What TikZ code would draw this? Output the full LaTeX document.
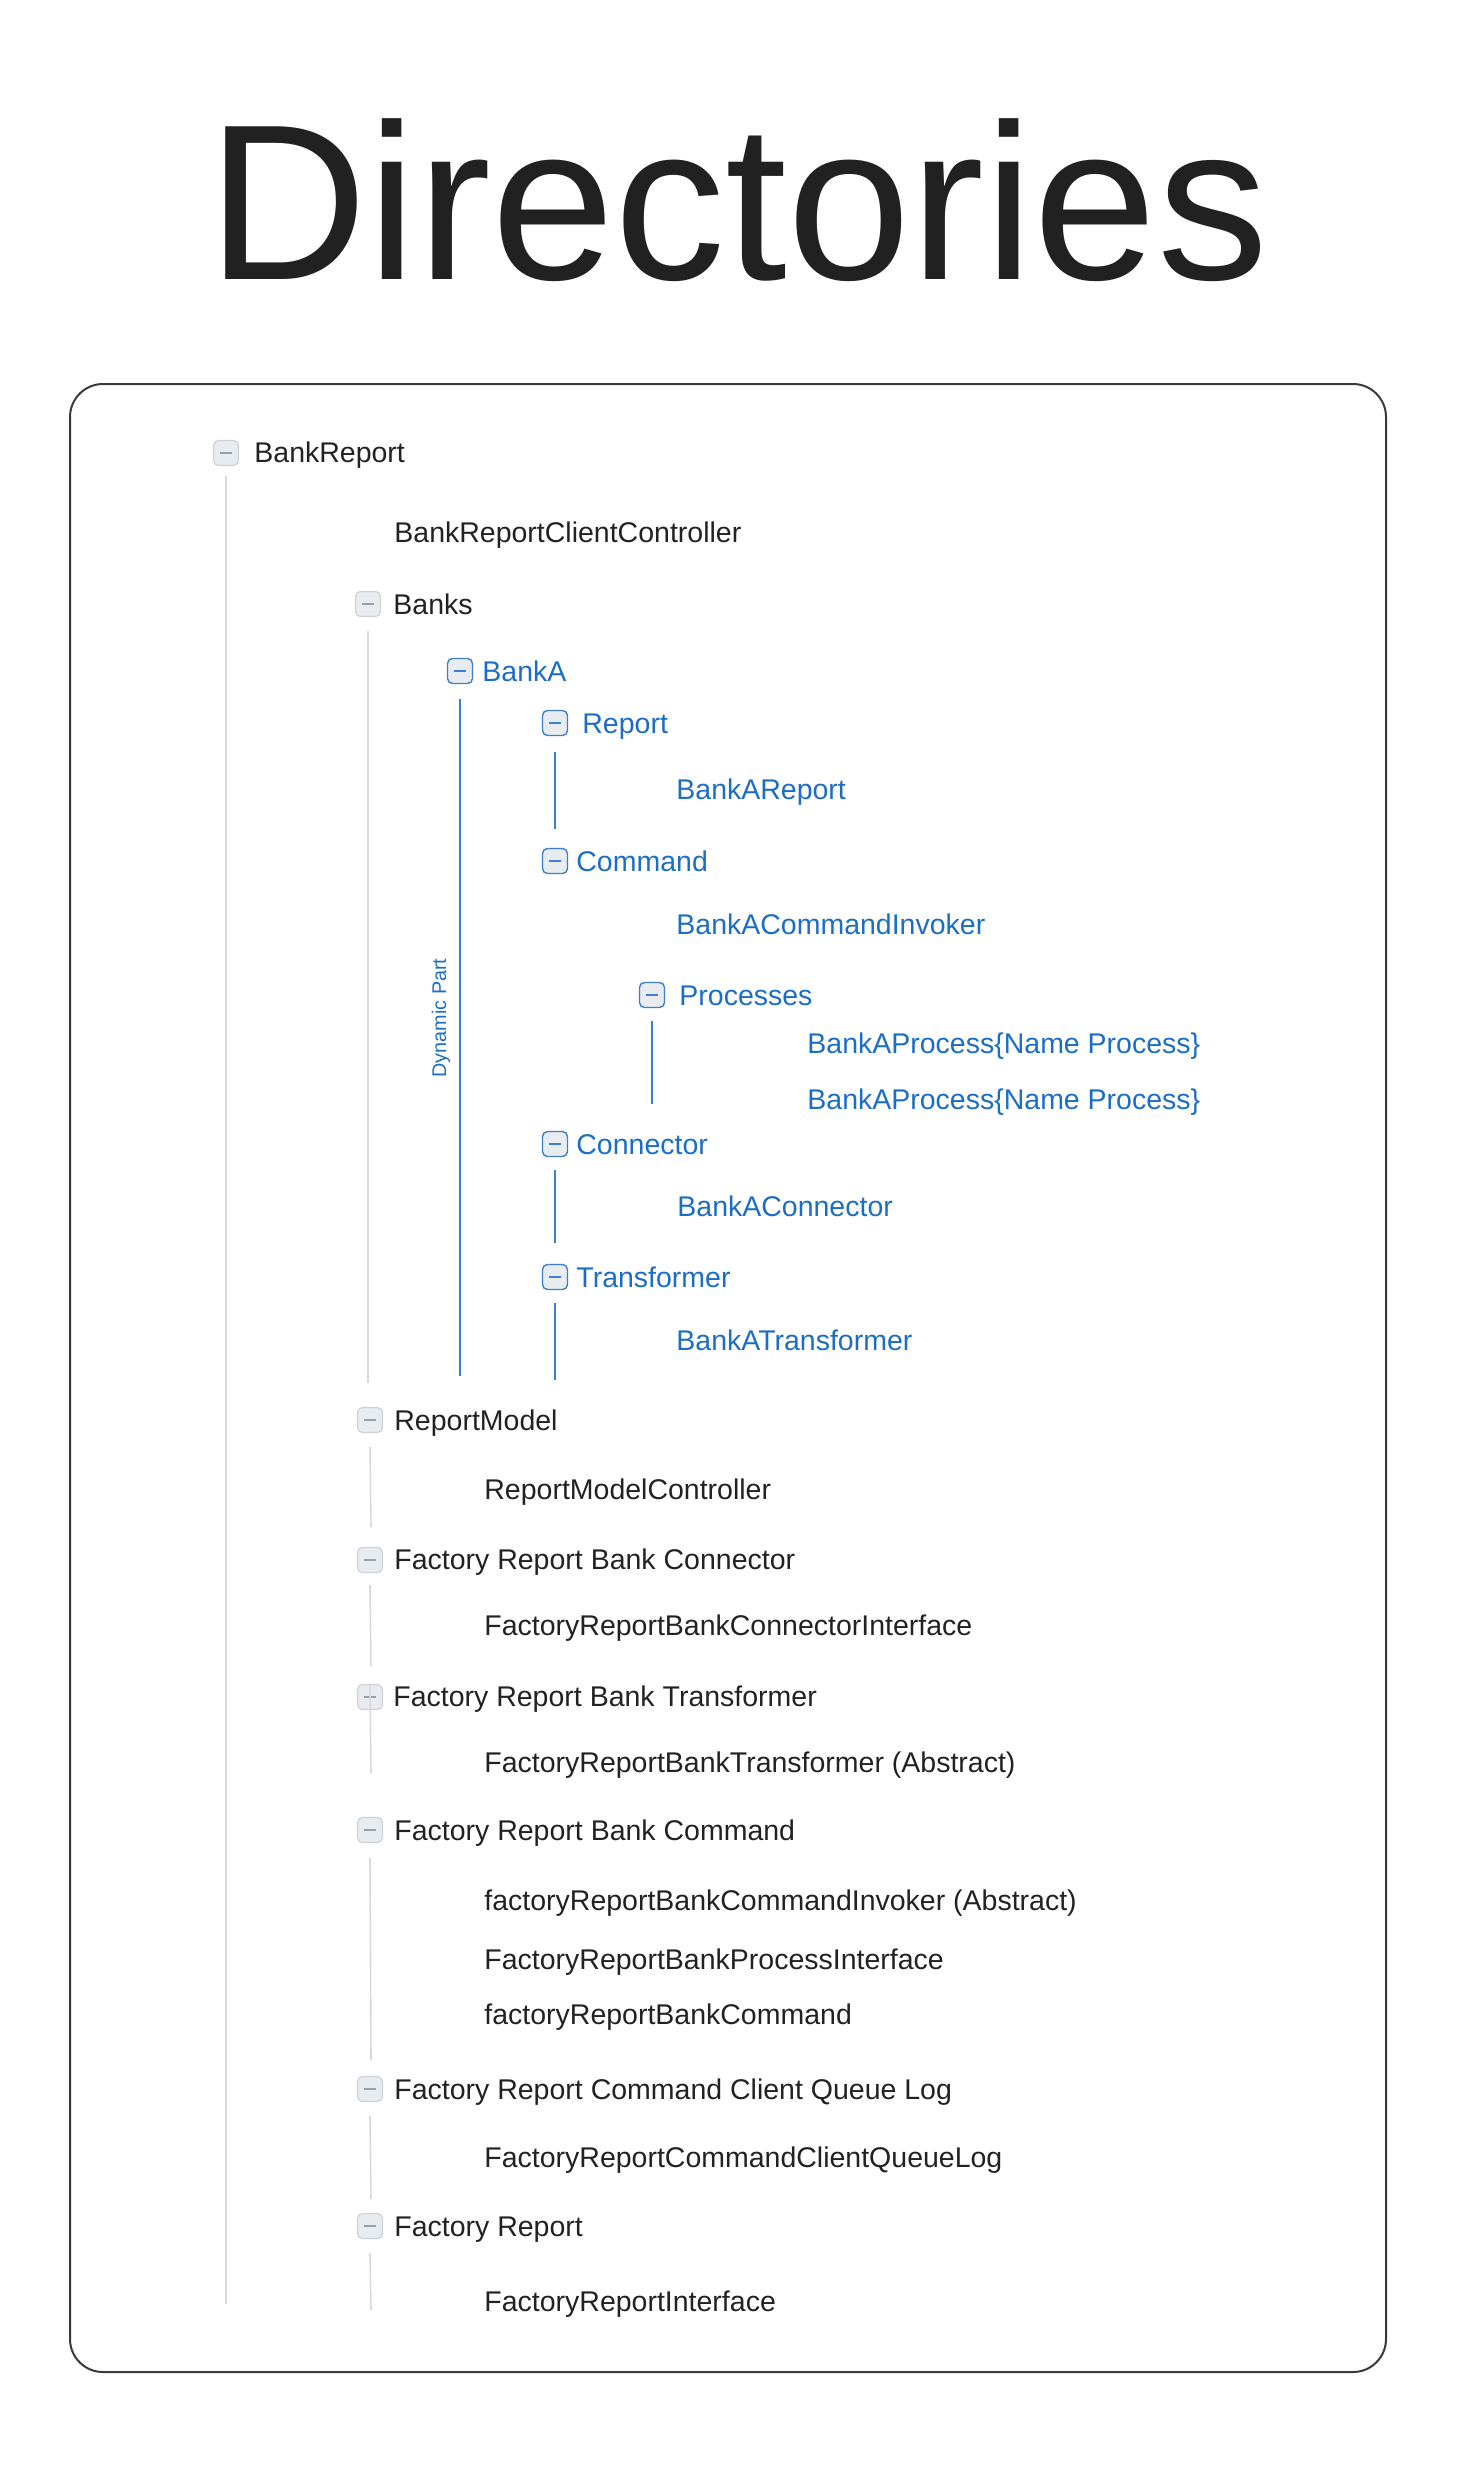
\documentclass[tikz,border=0pt]{standalone}
\usepackage{fontspec}
\setmainfont{Liberation Sans}
\usetikzlibrary{calc}
\definecolor{txt}{HTML}{222222}
\definecolor{titlecol}{HTML}{212121}
\definecolor{blu}{HTML}{1C6EC4}
\definecolor{blinecol}{HTML}{3A80CE}
\definecolor{glinecol}{HTML}{D6D9DE}
\definecolor{tfill}{HTML}{E8EBEF}
\definecolor{tdraw}{HTML}{CDD2D9}
\definecolor{tminus}{HTML}{9AA0A8}
\definecolor{framecol}{HTML}{3A3A3A}
\begin{document}
\begin{tikzpicture}[x=0.5pt,y=-0.5pt,
  item/.style={anchor=base west, inner sep=0pt, text=txt, font=\fontsize{14.25pt}{17pt}\selectfont},
  bitem/.style={item, text=blu},
  tog/.style={draw=tdraw, fill=tfill, line width=0.6pt, rounded corners=2.5pt,
    minimum size=12.5pt, inner sep=0pt,
    path picture={\draw[tminus, line width=1pt]
      ([xshift=-3pt]path picture bounding box.center) -- ([xshift=3pt]path picture bounding box.center);}},
  btog/.style={draw=blinecol, fill=tfill, line width=0.7pt, rounded corners=2.5pt,
    minimum size=12.5pt, inner sep=0pt,
    path picture={\draw[blinecol, line width=1pt]
      ([xshift=-3pt]path picture bounding box.center) -- ([xshift=3pt]path picture bounding box.center);}},
  gl/.style={draw=glinecol, line width=0.8pt},
  bl/.style={draw=blinecol, line width=1pt}]
\useasboundingbox (0,0) rectangle (1480,2484);

% title
\node[anchor=base, inner sep=0pt, text=titlecol, font=\fontsize{111pt}{122pt}\selectfont] (title) at (738,279) {Directories};

% frame
\draw[framecol, line width=1pt, rounded corners=16.5pt] (70,384) rectangle (1386,2372);

% BankReport
\node[tog] (b1) at (226,453) {};
\node[item] (t1) at (254,462) {BankReport};
\node[item] (t2) at (394,542) {BankReportClientController};

% Banks
\node[tog] (b3) at (368,604) {};
\node[item] (t3) at (393,614) {Banks};

% BankA (blue)
\node[btog] (b4) at (460,671) {};
\node[bitem] (t4) at (482,681) {BankA};
\node[btog] (b5) at (555,723) {};
\node[bitem] (t5) at (582,733) {Report};
\node[bitem] (t6) at (676,799) {BankAReport};
\node[btog] (b7) at (555,861) {};
\node[bitem] (t7) at (576,871) {Command};
\node[bitem] (t8) at (676,934) {BankACommandInvoker};
\node[btog] (b9) at (652,995) {};
\node[bitem] (t9) at (679,1005) {Processes};
\node[bitem] (t10) at (807,1053) {BankAProcess\{Name Process\}};
\node[bitem] (t11) at (807,1109) {BankAProcess\{Name Process\}};
\node[btog] (b12) at (555,1144) {};
\node[bitem] (t12) at (576,1154) {Connector};
\node[bitem] (t13) at (677,1216) {BankAConnector};
\node[btog] (b14) at (555,1277) {};
\node[bitem] (t14) at (576,1287) {Transformer};
\node[bitem] (t15) at (676,1350) {BankATransformer};
\node[rotate=90, inner sep=0pt, text=blu, font=\fontsize{9.9pt}{12pt}\selectfont] (dyn) at (441,1018) {Dynamic Part};

% ReportModel etc.
\node[tog] (b16) at (370,1420) {};
\node[item] (t16) at (394,1430) {ReportModel};
\node[item] (t17) at (484,1499) {ReportModelController};
\node[tog] (b18) at (370,1560) {};
\node[item] (t18) at (394,1569) {Factory Report Bank Connector};
\node[item] (t19) at (484,1635) {FactoryReportBankConnectorInterface};
\node[tog] (b20) at (370,1697) {};
\node[item] (t20) at (393,1706) {Factory Report Bank Transformer};
\node[item] (t21) at (484,1772) {FactoryReportBankTransformer (Abstract)};
\node[tog] (b22) at (370,1830) {};
\node[item] (t22) at (394,1840) {Factory Report Bank Command};
\node[item] (t23) at (484,1910) {factoryReportBankCommandInvoker (Abstract)};
\node[item] (t24) at (484,1969) {FactoryReportBankProcessInterface};
\node[item] (t25) at (484,2024) {factoryReportBankCommand};
\node[tog] (b26) at (370,2089) {};
\node[item] (t26) at (394,2099) {Factory Report Command Client Queue Log};
\node[item] (t27) at (484,2167) {FactoryReportCommandClientQueueLog};
\node[tog] (b28) at (370,2226) {};
\node[item] (t28) at (394,2236) {Factory Report};
\node[item] (t29) at (484,2311) {FactoryReportInterface};

% line end points
\coordinate (e1) at (226,2304);
\coordinate (e3) at (368,1383);
\coordinate (e4) at (460,1376);
\coordinate (e5) at (555,829);
\coordinate (e9) at (652,1104);
\coordinate (e12) at (555,1243);
\coordinate (e14) at (555,1380);
\coordinate (e16) at (371,1527);
\coordinate (e18) at (371,1666);
\coordinate (e20) at (371,1773);
\coordinate (e22) at (371,2060);
\coordinate (e26) at (371,2199);
\coordinate (e28) at (371,2310);

% tree lines
\draw[gl] ($(b1.south)+(0,10)$) -- (e1);
\draw[gl] ($(b3.south)+(0,14)$) -- (e3);
\draw[bl] ($(b4.south)+(0,15)$) -- (e4);
\draw[bl] ($(b5.south)+(0,16)$) -- (e5);
\draw[bl] ($(b9.south)+(0,13)$) -- (e9);
\draw[bl] ($(b12.south)+(0,13)$) -- (e12);
\draw[bl] ($(b14.south)+(0,13)$) -- (e14);
\draw[gl] ($(b16.south)+(0,14)$) -- (e16);
\draw[gl] ($(b18.south)+(0,12)$) -- (e18);
\draw[gl] ($(b20.north)+(0,2)$) -- (e20);
\draw[gl] ($(b22.south)+(0,15)$) -- (e22);
\draw[gl] ($(b26.south)+(0,14)$) -- (e26);
\draw[gl] ($(b28.south)+(0,14)$) -- (e28);
\end{tikzpicture}
\end{document}
